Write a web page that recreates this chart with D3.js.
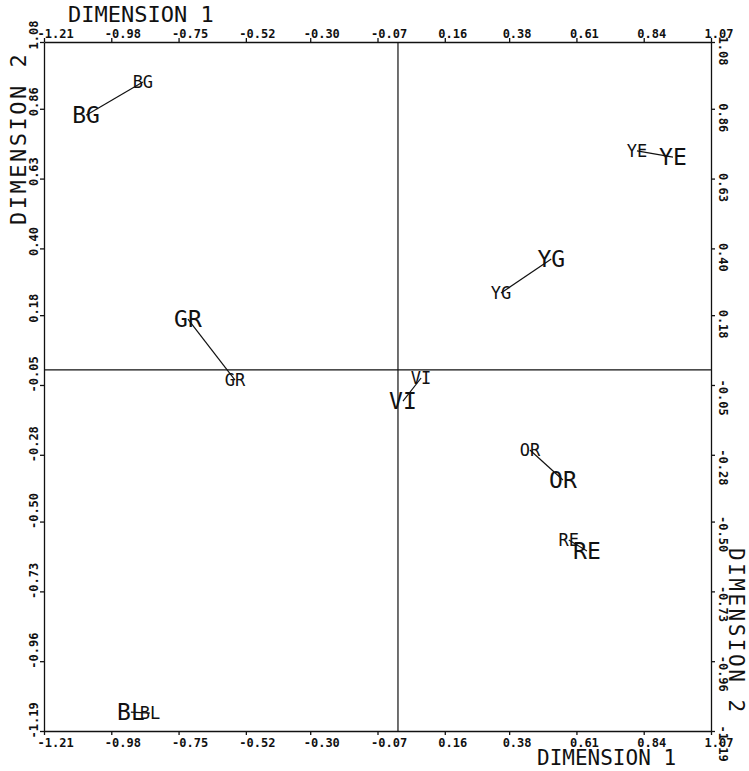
<html>
<head>
<meta charset="utf-8">
<style>
  body { margin: 0; background: #fff; }
  text { font-family: "DejaVu Sans Mono", monospace; fill: #111; }
  .tick text { font-size: 12px; font-weight: bold; }
</style>
</head>
<body>
<svg width="749" height="771"></svg>
<script src="https://d3js.org/d3.v7.min.js"></script>
<script>
// tick labels as printed on the plot
var xTicks = [-1.21, -0.98, -0.75, -0.52, -0.30, -0.07, 0.16, 0.38, 0.61, 0.84, 1.07];
var yTicks = [1.08, 0.86, 0.63, 0.40, 0.18, -0.05, -0.28, -0.50, -0.73, -0.96, -1.19];

// colour codes, two solutions (A = big letters, B = small letters)
var codes = ["BG", "GR", "YG", "YE", "VI", "OR", "RE", "BL"];
var dim1A = [-1.066, -0.718, 0.524, 0.940, 0.017, 0.564, 0.646, -0.913];
var dim2A = [0.839, 0.167, 0.365, 0.701, -0.103, -0.363, -0.597, -1.128];
var dim1B = [-0.872, -0.557, 0.352, 0.817, 0.079, 0.451, 0.584, -0.848];
var dim2B = [0.948, -0.034, 0.253, 0.721, -0.027, -0.264, -0.561, -1.131];

var svg = d3.select("svg");
var pl = 44, pr = 711, pt = 42, pb = 731;

var x = d3.scaleLinear().domain([-1.21, 1.07]).range([pl, pr]);
var y = d3.scaleLinear().domain([-1.19, 1.08]).range([pb, pt]);
var fmt = function(v) { return v.toFixed(2); };

// axes on all four sides
var gTop = svg.append("g").attr("transform", "translate(0," + pt + ")")
  .call(d3.axisTop(x).tickValues(xTicks).tickFormat(fmt).tickSize(4).tickSizeOuter(0).tickPadding(0));
gTop.selectAll(".tick text").attr("text-anchor", "start").attr("x", -7);

var gBot = svg.append("g").attr("transform", "translate(0," + pb + ")")
  .call(d3.axisBottom(x).tickValues(xTicks).tickFormat(fmt).tickSize(4).tickSizeOuter(0).tickPadding(3));
gBot.selectAll(".tick text").attr("text-anchor", "start").attr("x", -7);

var gLeft = svg.append("g").attr("transform", "translate(" + pl + ",0)")
  .call(d3.axisLeft(y).tickValues(yTicks).tickFormat(fmt).tickSize(4).tickSizeOuter(0));
gLeft.selectAll(".tick text")
  .attr("x", null).attr("dy", null).attr("text-anchor", "start")
  .attr("transform", "translate(-6,7) rotate(-90)");

var gRight = svg.append("g").attr("transform", "translate(" + pr + ",0)")
  .call(d3.axisRight(y).tickValues(yTicks).tickFormat(fmt).tickSize(4).tickSizeOuter(0));
gRight.selectAll(".tick text")
  .attr("x", null).attr("dy", null).attr("text-anchor", "start")
  .attr("transform", "translate(8,-6) rotate(90)");

svg.selectAll(".domain, .tick line").attr("stroke", "#111").attr("stroke-width", 1.3);

// lines through the origin
svg.append("line").attr("x1", x(0)).attr("x2", x(0)).attr("y1", pt).attr("y2", pb)
  .attr("stroke", "#111").attr("stroke-width", 1.2);
svg.append("line").attr("x1", pl).attr("x2", pr).attr("y1", y(0)).attr("y2", y(0))
  .attr("stroke", "#111").attr("stroke-width", 1.2);

// axis titles
svg.append("text").attr("x", 68).attr("y", 22).attr("font-size", 22).text("DIMENSION 1");
svg.append("text").attr("x", 537).attr("y", 765).attr("font-size", 21).text("DIMENSION 1");
svg.append("text").attr("transform", "translate(26,225) rotate(-90)")
  .attr("font-size", 22).attr("letter-spacing", 2.5).text("DIMENSION 2");
svg.append("text").attr("transform", "translate(729,548) rotate(90)")
  .attr("font-size", 21).attr("letter-spacing", 2.5).text("DIMENSION 2");

// connecting lines and labels
var idx = d3.range(codes.length);
svg.selectAll(".link").data(idx).enter().append("line")
  .attr("class", "link")
  .attr("x1", function(i) { return x(dim1A[i]); })
  .attr("y1", function(i) { return y(dim2A[i]); })
  .attr("x2", function(i) { return x(dim1B[i]); })
  .attr("y2", function(i) { return y(dim2B[i]); })
  .attr("stroke", "#111").attr("stroke-width", 1.2);

svg.selectAll(".labA").data(idx).enter().append("text")
  .attr("class", "labA")
  .attr("x", function(i) { return x(dim1A[i]); })
  .attr("y", function(i) { return y(dim2A[i]); })
  .attr("dy", "0.36em").attr("text-anchor", "middle").attr("font-size", 23)
  .text(function(i) { return codes[i]; });

svg.selectAll(".labB").data(idx).enter().append("text")
  .attr("class", "labB")
  .attr("x", function(i) { return x(dim1B[i]); })
  .attr("y", function(i) { return y(dim2B[i]); })
  .attr("dy", "0.36em").attr("text-anchor", "middle").attr("font-size", 17)
  .text(function(i) { return codes[i]; });
</script>
</body>
</html>
